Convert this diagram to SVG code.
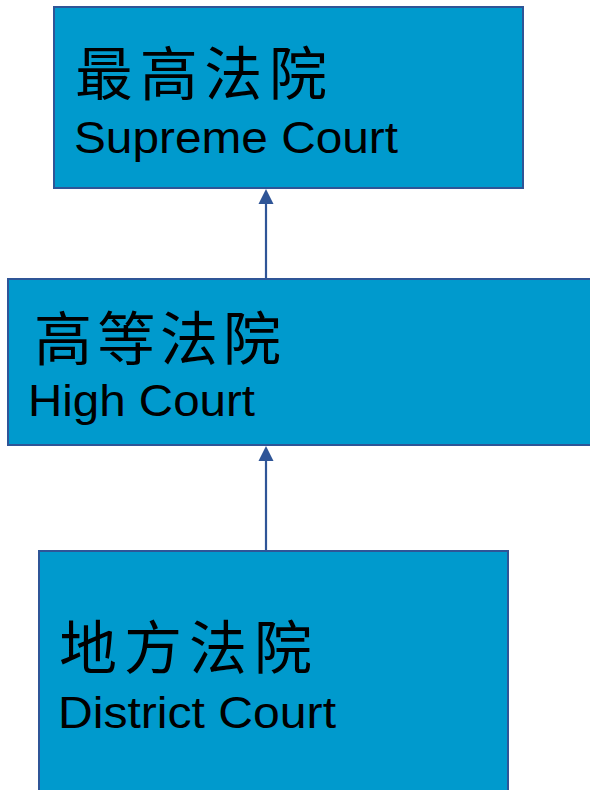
<svg xmlns="http://www.w3.org/2000/svg" width="590" height="790" viewBox="0 0 590 790">
<style>
.box{fill:#009ACD;stroke:#2F5597;stroke-width:2}
.zh{font-family:"Noto Sans CJK TC","Noto Sans CJK SC",sans-serif;font-size:58px;fill:#000}
.en{font-family:"Liberation Sans",Arial,sans-serif;font-size:45px;fill:#000}
.conn{stroke:#2F5597;stroke-width:2.2;fill:none}
.head{fill:#2F5597}
</style>
<rect width="590" height="790" fill="#fff"/>
<g id="supreme">
<rect class="box" x="54" y="7" width="469" height="181"/>
<text class="zh" x="75" y="95" textLength="252" lengthAdjust="spacing">最高法院</text>
<text class="en" x="74" y="153" textLength="324" lengthAdjust="spacingAndGlyphs">Supreme Court</text>
</g>
<g id="high">
<rect class="box" x="8" y="279" width="590" height="166"/>
<text class="zh" x="34" y="360" textLength="247" lengthAdjust="spacing">高等法院</text>
<text class="en" x="28" y="416" textLength="227" lengthAdjust="spacingAndGlyphs">High Court</text>
</g>
<g id="district">
<rect class="box" x="39" y="551" width="469" height="260"/>
<text class="zh" x="59" y="669" textLength="253" lengthAdjust="spacing">地方法院</text>
<text class="en" x="58" y="728" textLength="278" lengthAdjust="spacingAndGlyphs">District Court</text>
</g>
<g id="connectors">
<line class="conn" x1="266" y1="278" x2="266" y2="202"/>
<polygon class="head" points="266,189 258.5,204 273.5,204"/>
<line class="conn" x1="266" y1="550" x2="266" y2="459"/>
<polygon class="head" points="266,446 258.5,461 273.5,461"/>
</g>
</svg>
